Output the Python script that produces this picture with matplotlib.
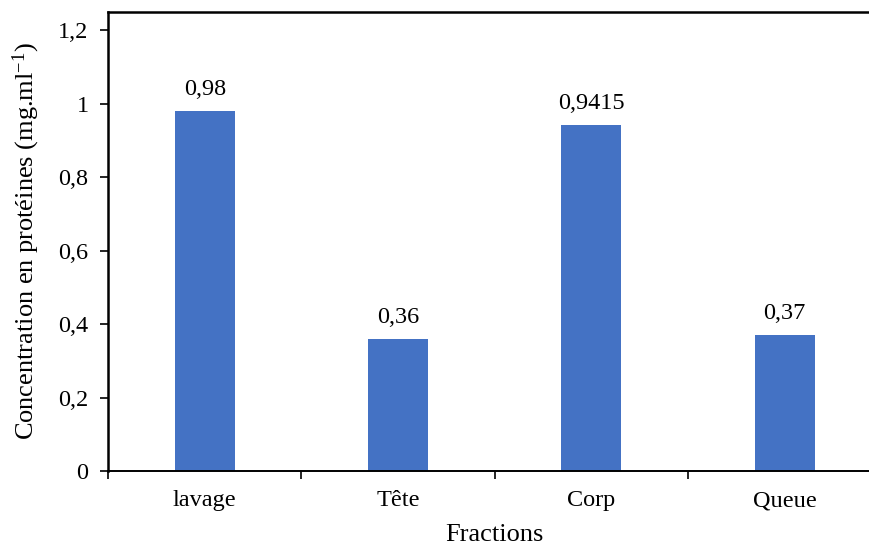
import matplotlib
matplotlib.use('Agg')
import numpy as np
from matplotlib import pyplot as plt

# data
fractions = ['lavage', 'Tête', 'Corp', 'Queue']
concentration = [0.98, 0.36, 0.9415, 0.37]
value_labels = ['0,98', '0,36', '0,9415', '0,37']
y_ticks = [0, 0.2, 0.4, 0.6, 0.8, 1.0, 1.2]
y_tick_labels = ['0', '0,2', '0,4', '0,6', '0,8', '1', '1,2']

plt.rcParams['font.family'] = ['Liberation Serif', 'DejaVu Serif']
plt.rcParams['mathtext.default'] = 'regular'

fig = plt.figure(figsize=(8.69, 5.47), dpi=100)
ax = fig.add_axes([0.1243, 0.139, 0.890, 0.839])

x = np.arange(len(fractions))
ax.bar(x, concentration, width=0.31, color='#4472C4', zorder=2)

for xi, v, lab in zip(x, concentration, value_labels):
    ax.text(xi, v + 0.03, lab, ha='center', va='bottom', fontsize=17.5)

ax.set_xlim(-0.5, 3.5)
ax.set_ylim(0, 1.25)
ax.set_yticks(y_ticks)
ax.set_yticklabels(y_tick_labels, fontsize=17.5)

# category labels centred, ticks on the category boundaries
ax.set_xticks(np.arange(-0.5, 3.6, 1.0))
ax.set_xticklabels([''] * 5)
ax.set_xticks(x, minor=True)
ax.set_xticklabels(fractions, minor=True, fontsize=17.5)
ax.tick_params(axis='x', which='minor', length=0, pad=14)
ax.tick_params(axis='x', which='major', length=6, width=1.2, direction='out')
ax.tick_params(axis='y', length=6, width=1.2, direction='out', pad=8)

for side in ['left', 'top']:
    ax.spines[side].set_linewidth(1.8)
ax.spines['bottom'].set_linewidth(1.4)
ax.spines['right'].set_visible(False)

ax.set_xlabel('Fractions', fontsize=19, labelpad=9)
ax.set_ylabel('Concentration en protéines (mg.ml$^{-1}$)', fontsize=19, labelpad=12)

fig.savefig('out.png', dpi=100)
